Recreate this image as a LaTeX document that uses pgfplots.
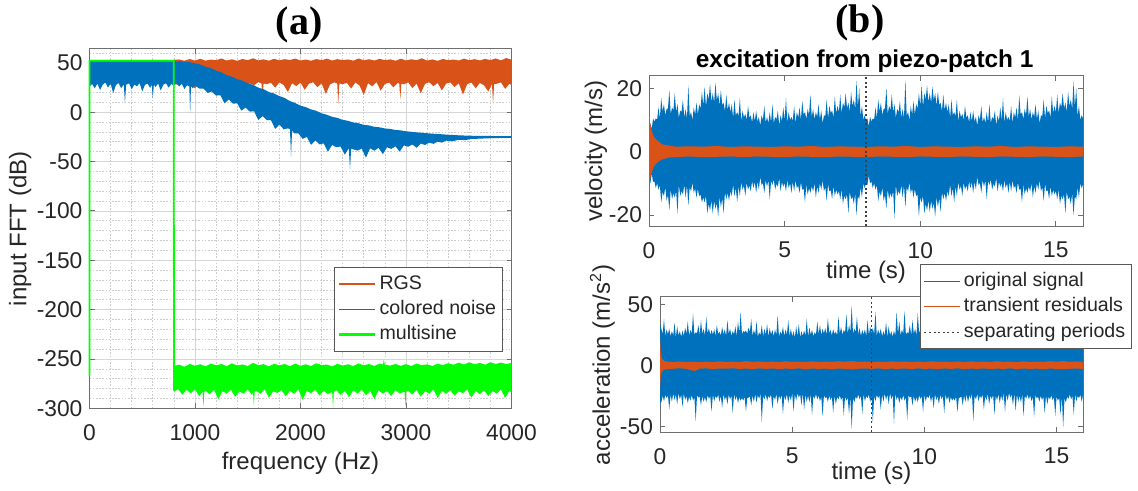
\documentclass[border=0pt]{standalone}
\usepackage{fontspec}
\setmainfont{Liberation Sans}
\newfontfamily\serifbf{Liberation Serif}
\usepackage{pgfplots}
\pgfplotsset{compat=1.18}
\usepackage{pgfplotstable}
\usepgfplotslibrary{fillbetween}

\definecolor{mlblue}{RGB}{0,114,189}
\definecolor{mlorange}{RGB}{217,83,25}
\definecolor{mlgreen}{RGB}{0,255,0}
\definecolor{txtgray}{RGB}{38,38,38}
\definecolor{boxgray}{RGB}{110,110,110}

\pgfplotsset{
  mlaxis/.style={
    scale only axis,
    anchor=south west,
    axis line style={boxgray, line width=0.5pt},
    tick style={boxgray, line width=0.5pt},
    tick align=inside,
    major tick length=2.5pt,
    minor tick length=0pt,
    scaled ticks=false,
    tick label style={font=\fontsize{11.4}{13}\selectfont, text=txtgray},
    xticklabel style={yshift=-4.3pt},
    label style={font=\fontsize{12}{14}\selectfont, text=txtgray},
    legend cell align=left,
    legend style={draw=black!65, line width=0.5pt, fill=white,
      font=\fontsize{9.8}{11}\selectfont,
      inner xsep=1.5pt, inner ysep=2pt,
      nodes={inner sep=1.5pt, text height=7.4pt, text depth=2.3pt, text=txtgray},
      row sep=0pt},
  },
  % legend samples: a short straight stroke in the given colour
  mlline/.style 2 args={legend image code/.code={%
    \draw[draw=#1, line width=#2] (0pt,0pt) -- (18pt,0pt);}},
  mldots/.style={legend image code/.code={%
    \draw[draw=black!75, line width=0.6pt, dash pattern=on 1pt off 1.3pt] (0pt,0pt) -- (18pt,0pt);}},
}

% velocity, original signal: time, upper and lower envelope
\pgfplotstableread{
t up lo
0.00 8.5 -8.4
0.05 9.0 -10.0
0.10 7.2 -6.9
0.15 10.5 -9.5
0.20 9.5 -9.4
0.25 10.5 -11.5
0.30 10.2 -9.9
0.35 14.0 -12.0
0.40 10.5 -10.5
0.45 17.0 -16.0
0.50 12.8 -12.7
0.55 15.0 -14.0
0.60 11.5 -11.2
0.65 13.5 -15.5
0.70 13.7 -13.6
0.75 19.5 -18.5
0.80 11.8 -11.8
0.85 14.0 -15.0
0.90 13.1 -13.0
0.95 18.5 -14.5
1.00 12.5 -12.4
1.05 15.0 -19.5
1.10 10.7 -10.4
1.15 13.0 -14.0
1.20 12.5 -12.4
1.25 16.5 -13.5
1.30 10.7 -10.4
1.35 13.5 -14.5
1.40 10.5 -10.5
1.45 21.0 -17.0
1.50 11.3 -11.2
1.55 12.5 -12.5
1.60 10.0 -9.7
1.65 14.0 -13.0
1.70 11.7 -11.6
1.75 15.5 -14.5
1.80 11.8 -11.8
1.85 15.0 -14.0
1.90 13.6 -13.5
1.95 19.0 -16.0
2.00 14.5 -14.4
2.05 20.5 -16.0
2.10 14.2 -13.9
2.15 18.5 -19.5
2.20 16.5 -16.4
2.25 21.5 -18.5
2.30 15.7 -15.4
2.35 18.5 -19.5
2.40 15.5 -15.5
2.45 21.7 -18.0
2.50 16.3 -16.2
2.55 18.5 -20.5
2.60 14.5 -14.2
2.65 19.5 -17.5
2.70 14.7 -14.6
2.75 15.5 -19.5
2.80 12.8 -12.8
2.85 18.0 -15.0
2.90 13.1 -13.0
2.95 15.5 -15.5
3.00 12.5 -12.4
3.05 15.0 -14.0
3.10 10.7 -10.4
3.15 16.5 -14.0
3.20 11.5 -11.4
3.25 12.5 -16.0
3.30 11.2 -10.9
3.35 17.0 -14.0
3.40 9.5 -9.5
3.45 13.0 -12.0
3.50 10.8 -10.7
3.55 12.0 -14.0
3.60 10.0 -9.7
3.65 14.5 -12.0
3.70 10.7 -10.6
3.75 11.5 -12.5
3.80 9.3 -9.3
3.85 12.5 -11.5
3.90 9.6 -9.5
3.95 13.0 -13.0
4.00 9.5 -9.4
4.05 11.0 -12.0
4.10 8.2 -7.9
4.15 11.5 -10.5
4.20 10.0 -9.9
4.25 14.5 -13.0
4.30 9.2 -8.9
4.35 11.0 -11.0
4.40 9.0 -9.0
4.45 12.5 -15.0
4.50 9.3 -9.2
4.55 15.0 -10.5
4.60 9.0 -8.7
4.65 11.0 -12.0
4.70 10.2 -10.1
4.75 13.0 -11.0
4.80 8.3 -8.3
4.85 11.5 -12.5
4.90 9.6 -9.5
4.95 14.0 -11.0
5.00 10.0 -9.9
5.05 17.0 -12.5
5.10 9.2 -8.9
5.15 12.5 -11.5
5.20 10.0 -9.9
5.25 11.0 -13.0
5.30 9.7 -9.4
5.35 14.5 -12.5
5.40 9.0 -9.0
5.45 12.5 -11.5
5.50 10.8 -10.7
5.55 14.0 -13.0
5.60 10.0 -9.7
5.65 16.0 -12.0
5.70 11.7 -11.6
5.75 12.5 -16.0
5.80 10.3 -10.3
5.85 13.5 -13.5
5.90 11.6 -11.5
5.95 18.0 -13.0
6.00 11.0 -10.9
6.05 13.5 -12.5
6.10 10.2 -9.9
6.15 12.5 -14.5
6.20 11.0 -10.9
6.25 15.0 -13.0
6.30 10.2 -9.9
6.35 13.0 -12.0
6.40 9.0 -9.0
6.45 11.5 -12.5
6.50 11.3 -11.2
6.55 16.5 -15.5
6.60 10.5 -10.2
6.65 14.5 -12.5
6.70 12.2 -12.1
6.75 13.0 -15.0
6.80 10.8 -10.8
6.85 17.5 -14.0
6.90 12.1 -12.0
6.95 14.5 -13.5
7.00 12.5 -12.4
7.05 18.0 -15.0
7.10 12.2 -11.9
7.15 15.5 -16.5
7.20 14.0 -13.9
7.25 18.5 -15.0
7.30 13.7 -13.4
7.35 15.5 -19.5
7.40 12.5 -12.5
7.45 19.0 -15.0
7.50 14.3 -14.2
7.55 16.5 -16.5
7.60 13.5 -13.2
7.65 22.4 -20.0
7.70 14.2 -14.1
7.75 20.0 -15.0
7.80 11.3 -11.3
7.85 14.5 -14.5
7.90 10.1 -10.0
7.95 11.5 -11.5
8.00 10.0 -9.8
8.05 10.5 -10.5
8.10 8.0 -7.5
8.15 11.0 -10.0
8.20 9.5 -9.4
8.25 10.5 -11.5
8.30 10.2 -9.9
8.35 14.0 -12.0
8.40 10.5 -10.5
8.45 16.5 -15.5
8.50 12.8 -12.7
8.55 15.5 -14.0
8.60 11.5 -11.2
8.65 13.5 -15.5
8.70 13.7 -13.6
8.75 20.2 -18.0
8.80 11.8 -11.8
8.85 14.5 -15.0
8.90 13.1 -13.0
8.95 18.0 -14.5
9.00 12.5 -12.4
9.05 15.0 -21.0
9.10 10.7 -10.4
9.15 13.5 -14.0
9.20 12.5 -12.4
9.25 16.0 -13.5
9.30 10.7 -10.4
9.35 13.5 -14.5
9.40 10.5 -10.5
9.45 22.6 -17.5
9.50 11.3 -11.2
9.55 12.5 -12.5
9.60 10.0 -9.7
9.65 14.5 -13.0
9.70 11.7 -11.6
9.75 16.0 -14.5
9.80 11.8 -11.8
9.85 15.0 -14.0
9.90 13.6 -13.5
9.95 18.5 -20.5
10.00 14.5 -14.4
10.05 21.0 -16.0
10.10 14.2 -13.9
10.15 18.5 -19.5
10.20 16.5 -16.4
10.25 21.0 -18.5
10.30 15.7 -15.4
10.35 18.5 -19.0
10.40 15.5 -15.5
10.45 20.5 -18.0
10.50 16.3 -16.2
10.55 18.5 -20.5
10.60 14.5 -14.2
10.65 19.0 -17.5
10.70 14.7 -14.6
10.75 15.5 -19.0
10.80 12.8 -12.8
10.85 18.0 -15.0
10.90 13.1 -13.0
10.95 15.5 -15.5
11.00 12.5 -12.4
11.05 15.0 -14.0
11.10 10.7 -10.4
11.15 16.5 -14.0
11.20 11.5 -11.4
11.25 12.5 -16.0
11.30 11.2 -10.9
11.35 16.5 -14.0
11.40 9.5 -9.5
11.45 13.0 -12.0
11.50 10.8 -10.7
11.55 12.0 -14.0
11.60 10.0 -9.7
11.65 14.5 -12.0
11.70 10.7 -10.6
11.75 11.5 -12.5
11.80 9.3 -9.3
11.85 12.5 -11.5
11.90 9.6 -9.5
11.95 13.0 -13.0
12.00 9.5 -9.4
12.05 11.0 -12.0
12.10 8.2 -7.9
12.15 11.5 -10.5
12.20 10.0 -9.9
12.25 14.5 -13.0
12.30 9.2 -8.9
12.35 11.0 -11.0
12.40 9.0 -9.0
12.45 12.5 -15.0
12.50 9.3 -9.2
12.55 15.0 -10.5
12.60 9.0 -8.7
12.65 11.0 -12.0
12.70 10.2 -10.1
12.75 13.0 -11.0
12.80 8.3 -8.3
12.85 11.5 -12.5
12.90 9.6 -9.5
12.95 14.0 -11.0
13.00 10.0 -9.9
13.05 17.0 -12.5
13.10 9.2 -8.9
13.15 12.5 -11.5
13.20 10.0 -9.9
13.25 11.0 -13.0
13.30 9.7 -9.4
13.35 14.5 -12.5
13.40 9.0 -9.0
13.45 12.5 -11.5
13.50 10.8 -10.7
13.55 14.0 -13.0
13.60 10.0 -9.7
13.65 17.8 -12.0
13.70 11.7 -11.6
13.75 12.5 -16.0
13.80 10.3 -10.3
13.85 13.5 -13.5
13.90 11.6 -11.5
13.95 17.5 -13.0
14.00 11.0 -10.9
14.05 13.5 -12.5
14.10 10.2 -9.9
14.15 12.5 -14.5
14.20 11.0 -10.9
14.25 15.0 -13.0
14.30 10.2 -9.9
14.35 13.0 -12.0
14.40 9.0 -9.0
14.45 11.5 -12.5
14.50 11.3 -11.2
14.55 16.5 -15.5
14.60 10.5 -10.2
14.65 14.5 -12.5
14.70 12.2 -12.1
14.75 13.0 -15.0
14.80 10.8 -10.8
14.85 17.5 -14.0
14.90 12.1 -12.0
14.95 14.5 -13.5
15.00 12.5 -12.4
15.05 18.0 -15.0
15.10 12.2 -11.9
15.15 15.5 -16.5
15.20 14.0 -13.9
15.25 18.5 -15.0
15.30 13.7 -13.4
15.35 15.5 -19.5
15.40 12.5 -12.5
15.45 19.0 -15.0
15.50 14.3 -14.2
15.55 16.5 -16.5
15.60 13.5 -13.2
15.65 22.2 -20.0
15.70 14.2 -14.1
15.75 20.0 -15.0
15.80 11.3 -11.3
15.85 14.5 -14.5
15.90 10.1 -10.0
15.95 11.5 -11.5
16.00 10.5 -10.3
}\velorig

% velocity, transient residuals
\pgfplotstableread{
t up lo
0.00 10.5 -10.0
0.02 9.8 -9.6
0.05 8.6 -8.4
0.08 7.4 -7.2
0.12 6.2 -6.1
0.16 5.2 -5.1
0.20 4.5 -4.4
0.25 4.0 -3.9
0.30 3.6 -3.5
0.40 2.9 -2.8
0.50 2.3 -2.4
0.75 1.9 -1.8
1.00 1.6 -1.7
1.50 1.7 -1.5
2.00 1.6 -1.7
2.50 1.8 -1.6
3.00 1.5 -1.5
3.50 1.7 -1.7
4.00 1.6 -1.5
4.50 1.5 -1.6
5.00 1.7 -1.7
5.50 1.6 -1.5
6.00 1.8 -1.6
6.50 1.5 -1.7
7.00 1.7 -1.5
7.50 1.6 -1.6
8.00 1.5 -1.7
8.50 1.7 -1.5
9.00 1.6 -1.6
9.50 1.8 -1.7
10.00 1.5 -1.5
10.50 1.7 -1.6
11.00 1.6 -1.7
11.50 1.5 -1.5
12.00 1.7 -1.6
12.50 1.6 -1.7
13.00 1.8 -1.5
13.50 1.5 -1.6
14.00 1.7 -1.7
14.50 1.6 -1.5
15.00 1.5 -1.6
15.50 1.7 -1.7
16.00 1.6 -1.5
}\veltrans

% acceleration, original signal: time, upper and lower envelope
\pgfplotstableread{
t up lo
0.00 34.0 -31.0
0.05 30.0 -30.5
0.10 25.5 -25.0
0.15 38.0 -29.5
0.20 24.0 -24.3
0.25 29.5 -27.0
0.30 25.3 -24.9
0.35 30.0 -36.0
0.40 23.7 -24.0
0.45 28.0 -30.0
0.50 24.3 -23.1
0.55 35.0 -28.5
0.60 23.0 -23.9
0.65 32.0 -32.0
0.70 24.5 -22.8
0.75 28.0 -28.0
0.80 23.3 -24.1
0.85 28.5 -34.0
0.90 24.1 -23.3
0.95 31.0 -28.5
1.00 25.7 -25.4
1.05 36.0 -31.0
1.10 24.5 -25.9
1.15 29.0 -29.0
1.20 26.0 -24.5
1.25 42.5 -29.0
1.30 24.9 -26.1
1.35 27.0 -46.0
1.40 26.3 -24.7
1.45 33.0 -26.5
1.50 24.6 -25.5
1.55 37.0 -33.0
1.60 25.8 -25.1
1.65 30.0 -30.0
1.70 24.4 -26.0
1.75 40.0 -30.5
1.80 26.1 -24.6
1.85 30.5 -27.5
1.90 24.8 -25.4
1.95 29.0 -38.0
2.00 25.1 -24.0
2.05 29.5 -29.5
2.10 23.9 -25.3
2.15 33.0 -27.0
2.20 25.5 -24.2
2.25 27.5 -30.0
2.30 24.3 -25.0
2.35 31.5 -35.0
2.40 25.2 -23.7
2.45 29.5 -28.5
2.50 24.0 -25.4
2.55 37.0 -32.0
2.60 25.6 -24.1
2.65 30.0 -28.0
2.70 24.2 -24.9
2.75 28.0 -39.0
2.80 25.4 -23.8
2.85 32.0 -28.5
2.90 23.8 -25.2
2.95 36.0 -31.0
3.00 26.5 -26.1
3.05 44.0 -29.0
3.10 25.5 -26.9
3.15 28.0 -29.0
3.20 27.1 -25.7
3.25 28.5 -38.0
3.30 25.9 -27.0
3.35 31.0 -26.5
3.40 27.3 -25.6
3.45 38.0 -33.0
3.50 24.1 -24.8
3.55 29.0 -30.0
3.60 25.0 -23.7
3.65 36.0 -30.5
3.70 23.5 -24.6
3.75 27.0 -27.5
3.80 24.8 -23.5
3.85 33.0 -47.0
3.90 23.7 -24.9
3.95 30.0 -28.0
4.00 24.9 -23.6
4.05 34.0 -29.5
4.10 23.6 -25.0
4.15 30.5 -27.0
4.20 25.1 -23.8
4.25 29.0 -36.0
4.30 23.8 -25.1
4.35 29.5 -28.5
4.40 24.7 -23.5
4.45 41.0 -32.0
4.50 23.5 -24.7
4.55 27.5 -28.0
4.60 25.3 -24.0
4.65 31.5 -40.0
4.70 24.0 -25.3
4.75 29.5 -28.5
4.80 24.8 -23.7
4.85 37.0 -31.0
4.90 23.9 -24.6
4.95 30.0 -29.0
5.00 23.4 -22.7
5.05 28.0 -38.0
5.10 22.6 -23.6
5.15 32.0 -29.0
5.20 23.7 -22.8
5.25 34.0 -26.5
5.30 22.8 -23.8
5.35 28.0 -33.0
5.40 23.9 -22.6
5.45 28.5 -37.0
5.50 24.4 -23.8
5.55 38.0 -30.0
5.60 23.6 -24.8
5.65 31.0 -30.5
5.70 25.0 -23.7
5.75 29.0 -41.0
5.80 23.8 -24.9
5.85 27.0 -27.5
5.90 25.1 -23.6
5.95 36.0 -28.0
6.00 25.4 -24.8
6.05 33.0 -29.5
6.10 24.6 -25.8
6.15 30.0 -42.0
6.20 25.9 -24.6
6.25 30.5 -27.0
6.30 24.8 -26.0
6.35 39.0 -30.0
6.40 26.1 -24.9
6.45 29.0 -28.5
6.50 24.7 -25.6
6.55 29.5 -39.0
6.60 25.7 -24.5
6.65 27.5 -32.0
6.70 24.5 -25.9
6.75 40.0 -28.0
6.80 26.0 -24.7
6.85 31.5 -28.5
6.90 24.9 -26.1
6.95 29.0 -41.0
7.00 26.7 -25.7
7.05 42.0 -29.0
7.10 25.6 -26.9
7.15 33.0 -40.0
7.20 27.1 -25.8
7.25 49.0 -52.5
7.30 25.8 -27.1
7.35 30.0 -30.5
7.40 27.2 -25.9
7.45 40.0 -27.5
7.50 25.1 -23.9
7.55 30.5 -28.0
7.60 24.0 -25.1
7.65 29.0 -40.0
7.70 25.3 -23.8
7.75 29.5 -29.5
7.80 23.9 -25.2
7.85 37.0 -27.0
7.90 25.0 -24.0
7.95 31.5 -30.0
8.00 26.5 -25.5
8.05 30.5 -47.0
8.10 25.5 -25.0
8.15 44.0 -29.5
8.20 24.0 -24.3
8.25 29.5 -27.0
8.30 25.3 -24.9
8.35 30.0 -36.5
8.40 23.7 -24.0
8.45 28.0 -30.0
8.50 24.3 -23.1
8.55 35.5 -28.5
8.60 23.0 -23.9
8.65 32.0 -32.0
8.70 24.5 -22.8
8.75 28.0 -28.0
8.80 23.3 -24.1
8.85 28.5 -48.0
8.90 24.1 -23.3
8.95 44.0 -28.5
9.00 25.7 -25.4
9.05 36.0 -31.0
9.10 24.5 -25.9
9.15 29.0 -29.0
9.20 26.0 -24.5
9.25 44.6 -29.0
9.30 24.9 -26.1
9.35 27.0 -45.0
9.40 26.3 -24.7
9.45 33.0 -26.5
9.50 24.6 -25.5
9.55 37.0 -33.0
9.60 25.8 -25.1
9.65 30.0 -30.0
9.70 24.4 -26.0
9.75 43.0 -30.5
9.80 26.1 -24.6
9.85 30.5 -27.5
9.90 24.8 -25.4
9.95 29.0 -38.5
10.00 25.1 -24.0
10.05 29.5 -29.5
10.10 23.9 -25.3
10.15 33.5 -27.0
10.20 25.5 -24.2
10.25 27.5 -30.0
10.30 24.3 -25.0
10.35 31.5 -35.5
10.40 25.2 -23.7
10.45 29.5 -28.5
10.50 24.0 -25.4
10.55 37.5 -32.0
10.60 25.6 -24.1
10.65 30.0 -28.0
10.70 24.2 -24.9
10.75 28.0 -39.5
10.80 25.4 -23.8
10.85 32.0 -28.5
10.90 23.8 -25.2
10.95 36.5 -31.0
11.00 26.5 -26.1
11.05 43.0 -29.0
11.10 25.5 -26.9
11.15 28.0 -29.0
11.20 27.1 -25.7
11.25 28.5 -38.5
11.30 25.9 -27.0
11.35 31.0 -26.5
11.40 27.3 -25.6
11.45 38.5 -33.0
11.50 24.1 -24.8
11.55 29.0 -30.0
11.60 25.0 -23.7
11.65 36.0 -30.5
11.70 23.5 -24.6
11.75 27.0 -27.5
11.80 24.8 -23.5
11.85 33.0 -46.0
11.90 23.7 -24.9
11.95 30.0 -28.0
12.00 24.9 -23.6
12.05 34.5 -29.5
12.10 23.6 -25.0
12.15 30.5 -27.0
12.20 25.1 -23.8
12.25 29.0 -36.5
12.30 23.8 -25.1
12.35 29.5 -28.5
12.40 24.7 -23.5
12.45 40.5 -32.0
12.50 23.5 -24.7
12.55 27.5 -28.0
12.60 25.3 -24.0
12.65 31.5 -40.5
12.70 24.0 -25.3
12.75 29.5 -28.5
12.80 24.8 -23.7
12.85 37.5 -31.0
12.90 23.9 -24.6
12.95 30.0 -29.0
13.00 23.4 -22.7
13.05 28.0 -38.5
13.10 22.6 -23.6
13.15 32.0 -29.0
13.20 23.7 -22.8
13.25 34.5 -26.5
13.30 22.8 -23.8
13.35 28.0 -33.0
13.40 23.9 -22.6
13.45 28.5 -37.5
13.50 24.4 -23.8
13.55 38.5 -30.0
13.60 23.6 -24.8
13.65 31.0 -30.5
13.70 25.0 -23.7
13.75 29.0 -41.5
13.80 23.8 -24.9
13.85 27.0 -27.5
13.90 25.1 -23.6
13.95 36.5 -28.0
14.00 25.4 -24.8
14.05 33.0 -29.5
14.10 24.6 -25.8
14.15 30.0 -42.5
14.20 25.9 -24.6
14.25 30.5 -27.0
14.30 24.8 -26.0
14.35 39.5 -30.0
14.40 26.1 -24.9
14.45 29.0 -28.5
14.50 24.7 -25.6
14.55 29.5 -39.5
14.60 25.7 -24.5
14.65 27.5 -32.0
14.70 24.5 -25.9
14.75 40.5 -28.0
14.80 26.0 -24.7
14.85 31.5 -28.5
14.90 24.9 -26.1
14.95 29.0 -41.5
15.00 26.7 -25.7
15.05 42.5 -29.0
15.10 25.6 -26.9
15.15 33.0 -40.5
15.20 27.1 -25.8
15.25 48.0 -51.0
15.30 25.8 -27.1
15.35 30.0 -30.5
15.40 27.2 -25.9
15.45 40.5 -27.5
15.50 25.1 -23.9
15.55 30.5 -28.0
15.60 24.0 -25.1
15.65 29.0 -40.5
15.70 25.3 -23.8
15.75 29.5 -29.5
15.80 23.9 -25.2
15.85 37.5 -27.0
15.90 25.0 -24.0
15.95 31.5 -30.0
16.00 25.5 -24.5
}\accorig

% acceleration, transient residuals
\pgfplotstableread{
t up lo
0.00 26.0 -21.0
0.01 19.0 -16.0
0.03 11.0 -9.5
0.06 6.5 -6.0
0.10 4.6 -4.4
0.15 3.6 -3.7
0.25 3.0 -3.2
0.50 2.6 -2.9
0.75 3.1 -2.5
1.00 2.7 -3.0
1.30 2.9 -4.8
1.50 2.5 -2.8
1.75 3.0 -2.6
2.00 2.6 -3.1
2.25 3.2 -2.7
2.50 2.7 -2.9
2.75 3.0 -2.5
3.00 2.6 -3.0
3.25 3.4 -2.8
3.50 2.8 -3.2
3.75 3.1 -2.6
4.00 2.7 -3.0
4.25 3.0 -2.7
4.50 2.6 -3.1
4.75 3.3 -2.8
5.00 2.8 -3.0
5.25 3.0 -2.6
5.50 2.6 -3.2
5.75 3.2 -2.7
6.00 2.7 -3.0
6.25 3.0 -2.8
6.50 2.8 -3.3
6.75 3.3 -2.7
7.00 2.9 -3.0
7.25 3.5 -3.4
7.50 2.8 -2.9
7.75 3.1 -2.7
8.00 2.7 -3.0
8.25 3.0 -2.6
8.50 2.6 -3.1
8.75 3.2 -2.8
9.00 2.8 -3.0
9.25 3.1 -2.7
9.50 2.7 -3.2
9.75 3.0 -2.6
10.00 2.6 -3.0
10.25 3.3 -2.8
10.50 2.8 -3.1
10.75 3.0 -2.7
11.00 2.7 -3.0
11.25 3.1 -2.6
11.50 2.6 -3.2
11.75 3.2 -2.8
12.00 2.8 -3.0
12.25 3.0 -2.7
12.50 2.7 -3.1
12.75 3.3 -2.8
13.00 2.8 -3.0
13.25 3.0 -2.6
13.50 2.6 -3.2
13.75 3.2 -2.7
14.00 2.7 -3.0
14.25 3.0 -2.8
14.50 2.8 -3.3
14.75 3.3 -2.7
15.00 2.9 -3.0
15.25 3.4 -3.3
15.50 2.8 -2.9
15.75 3.1 -2.7
16.00 2.7 -3.0
}\acctrans

\begin{document}
\begin{tikzpicture}

% ---------------- (a) input spectra ----------------
\begin{axis}[mlaxis,
  at={(44.75pt,41.25pt)}, width=211pt, height=179.75pt,
  xmin=0, xmax=4000, ymin=-300, ymax=64,
  clip=false,
  xtick={0,1000,2000,3000,4000}, xticklabels={0,1000,2000,3000,4000},
  ytick={-300,-250,-200,-150,-100,-50,0,50},
  yticklabels={-300,-250,-200,-150,-100,-50,0,50},
  minor xtick={0,200,...,4000},
  minor ytick={-300,-290,...,60},
  grid=both,
  major grid style={draw=black!16, line width=0.45pt},
  minor grid style={draw=black!20, line width=0.4pt, dash pattern=on 0.8pt off 0.8pt},
  xlabel={frequency (Hz)}, ylabel={input FFT (dB)},
  xlabel style={at={(axis description cs:0.5,-0.1516)}, anchor=center},
  ylabel style={at={(axis description cs:-0.164,0.5)}, anchor=center},
  legend style={at={(0.979,0.3944)}, anchor=north east},
]
\addlegendimage{mlline={mlorange}{0.6pt}}
\addlegendentry{RGS}
\addlegendimage{mlline={mlblue}{0.6pt}}
\addlegendentry{colored noise}
\addlegendimage{mlline={mlgreen}{1.3pt}}
\addlegendentry{multisine}
% RGS
\addplot[name path=rgsU, draw=none, forget plot] coordinates {
(0,53) (400,53) (800,53) (850,53.4) (900,52.1) (950,53.8) (1000,52.3) (1050,54.1)
(1100,52.2) (1150,53.3) (1200,52.6) (1250,54.4) (1300,52.3) (1350,53.6) (1400,52.0)
(1450,53.9) (1500,52.6) (1550,54.6) (1600,52.4) (1650,53.5) (1700,52.2) (1750,54.0)
(1800,52.5) (1850,53.7) (1900,52.8) (1950,54.3) (2000,52.3) (2050,53.3) (2100,52.1)
(2150,53.8) (2200,52.6) (2250,54.2) (2300,52.3) (2350,53.7) (2400,52.7) (2450,53.4)
(2500,52.2) (2550,54.3) (2600,52.5) (2650,53.6) (2700,52.3) (2750,54.0) (2800,52.6)
(2850,53.5) (2900,52.1) (2950,54.1) (3000,52.4) (3050,53.6) (3100,52.6) (3150,54.5)
(3200,52.3) (3250,53.4) (3300,52.0) (3350,53.9) (3400,52.6) (3450,53.3) (3500,52.3)
(3550,54.2) (3600,52.6) (3650,53.7) (3700,52.4) (3750,54.0) (3800,52.7) (3850,54.4)
(3900,52.5) (3950,54.8) (4000,53.2)};
\addplot[name path=rgsL, draw=none, forget plot] coordinates {
(0,30) (400,30) (800,29) (840,27.5) (880,30.2) (920,26.8) (960,29.5) (1000,24.0)
(1040,30.1) (1080,27.2) (1120,29.8) (1160,21.5) (1200,28.7) (1240,30.5) (1280,26.1)
(1320,29.4) (1360,19.8) (1400,28.9) (1440,30.3) (1480,25.7) (1520,29.1) (1560,27.3)
(1600,30.6) (1630,29.0) (1640,16.0) (1650,29.0) (1680,28.4) (1720,29.9) (1760,24.8)
(1800,30.2) (1840,27.6) (1880,20.5) (1920,29.3) (1960,26.4) (2000,30.0) (2040,22.7)
(2080,28.8) (2120,30.4) (2160,25.3) (2200,29.2) (2240,18.6) (2280,28.1) (2320,30.3)
(2348,29.0) (2358,8.4) (2368,29.0) (2400,28.5) (2440,29.7) (2480,23.9) (2520,30.1)
(2560,27.0) (2600,17.5) (2640,29.4) (2680,26.2) (2720,30.5) (2760,21.8) (2800,28.6)
(2840,30.0) (2880,25.1) (2920,29.5) (2936,29.0) (2946,13.0) (2956,29.0) (2980,28.2)
(3020,30.3) (3060,24.4) (3100,29.0) (3140,19.2) (3180,28.7) (3220,30.4) (3260,26.3)
(3300,29.6) (3340,22.0) (3380,28.9) (3420,30.2) (3460,25.5) (3500,29.3) (3540,17.9)
(3580,28.4) (3620,30.1) (3660,24.2) (3700,29.7) (3740,27.1) (3780,21.0) (3815,28.5)
(3825,8.4) (3835,28.5) (3860,28.8) (3900,30.3) (3940,23.6) (3980,28.9) (4000,27.5)};
\addplot[fill=mlorange, draw=none, forget plot] fill between[of=rgsU and rgsL];
% colored noise
\addplot[name path=cnU, draw=none, forget plot] coordinates {
(0,51.5) (400,51.5) (800,51.5) (850,51.6) (900,51.2) (950,50.6) (1000,49.5) (1050,48.2)
(1100,46.0) (1150,44.5) (1200,42.1) (1250,40.3) (1300,37.5) (1350,35.9) (1400,33.4)
(1450,31.9) (1500,29.2) (1550,27.7) (1600,24.8) (1650,23.3) (1700,20.4) (1750,18.9)
(1800,16.3) (1850,14.4) (1900,11.2) (1950,9.3) (2000,6.6) (2050,5.1) (2100,2.8)
(2150,1.4) (2200,-1.2) (2250,-2.6) (2300,-4.7) (2350,-5.8) (2400,-7.8) (2450,-8.7)
(2500,-10.4) (2550,-11.2) (2600,-12.8) (2650,-13.4) (2700,-14.8) (2750,-15.3)
(2800,-16.5) (2850,-16.9) (2900,-18.0) (2950,-18.4) (3000,-19.3) (3100,-20.4)
(3200,-21.3) (3300,-22.1) (3400,-22.8) (3500,-23.4) (3600,-23.8) (3700,-24.0)
(3800,-24.1) (3900,-24.2) (4000,-24.3)};
\addplot[name path=cnL, draw=none, forget plot] coordinates {
(0,26) (25,28.5) (50,24.2) (75,29.0) (100,22.5) (125,27.8) (150,30.1) (175,25.0)
(200,28.7) (225,19.5) (250,27.4) (275,29.6) (300,24.3) (325,28.1) (336,9.0) (347,27.8)
(375,29.3) (400,23.1) (425,28.0) (450,26.2) (475,29.5) (500,21.0) (525,27.6)
(550,29.1) (575,24.6) (590,27.9) (600,13.7) (610,28.2) (625,25.4) (650,29.2) (675,22.0)
(700,27.9) (725,29.4) (750,24.9) (775,28.6) (800,27.0) (825,29.5) (850,26.0) (875,28.8)
(900,23.5) (925,27.4) (946,26.0) (954,-1.0) (962,26.2) (980,24.2) (1000,27.0)
(1040,24.0) (1080,23.9) (1120,19.5) (1160,21.0) (1200,16.8) (1240,17.2) (1280,9.0)
(1320,12.9) (1360,8.7) (1400,8.9) (1440,1.5) (1480,4.8) (1520,0.6) (1560,0.9)
(1600,-8.0) (1640,-3.9) (1680,-7.9) (1720,-8.1) (1760,-17.0) (1800,-12.5) (1840,-17.3)
(1880,-16.4) (1900,-17.0) (1910,-45.0) (1920,-18.2) (1940,-21.5) (1980,-21.4)
(2020,-27.0) (2060,-25.0) (2100,-33.0) (2140,-28.6) (2180,-32.5) (2220,-31.6)
(2260,-40.0) (2300,-33.2) (2340,-35.5) (2380,-34.8) (2420,-43.0) (2458,-36.4)
(2469,-58.0) (2480,-36.8) (2500,-37.6) (2540,-38.9) (2580,-36.8)
(2620,-46.0) (2660,-36.5) (2700,-39.0) (2740,-36.0) (2780,-42.5) (2820,-35.5)
(2860,-37.2) (2900,-34.5) (2940,-40.0) (2980,-33.6) (3020,-35.0) (3060,-32.7)
(3100,-36.0) (3140,-31.7) (3180,-33.2) (3220,-30.8) (3260,-32.0) (3300,-29.8)
(3340,-30.8) (3380,-28.8) (3440,-29.4) (3500,-27.9) (3560,-28.3) (3620,-27.1)
(3700,-26.8) (3780,-26.4) (3860,-26.2) (3940,-26.0) (4000,-25.9)};
\addplot[fill=mlblue, draw=none, forget plot] fill between[of=cnU and cnL];
% multisine
\addplot[name path=msU, draw=none, forget plot] coordinates {
(800,-257) (850,-255.6) (900,-257.8) (950,-254.9) (1000,-256.7) (1050,-255.2)
(1100,-257.4) (1150,-254.6) (1200,-256.3) (1250,-255.0) (1300,-257.1) (1350,-254.3)
(1400,-256.5) (1450,-255.4) (1500,-257.0) (1550,-253.8) (1600,-256.2) (1650,-255.1)
(1700,-257.3) (1750,-254.7) (1800,-256.4) (1850,-255.0) (1900,-257.2) (1950,-254.5)
(2000,-256.8) (2050,-255.3) (2100,-257.0) (2150,-254.2) (2200,-256.1) (2250,-255.5)
(2300,-257.5) (2350,-254.8) (2400,-256.6) (2450,-255.2) (2500,-257.0) (2550,-254.4)
(2600,-256.3) (2650,-255.0) (2700,-256.9) (2750,-254.6) (2782,-255.4) (2790,-250.5)
(2798,-255.4) (2850,-256.6) (2900,-254.9) (2950,-256.8) (3000,-255.1) (3050,-257.0)
(3100,-254.5) (3150,-256.2) (3200,-255.3) (3250,-256.9) (3300,-254.7) (3350,-256.0)
(3400,-254.2) (3450,-255.8) (3500,-253.6) (3550,-255.4) (3600,-253.3) (3650,-255.1)
(3700,-253.9) (3750,-255.6) (3800,-253.2) (3850,-254.9) (3900,-253.5) (3950,-255.0)
(4000,-253.8)};
\addplot[name path=msL, draw=none, forget plot] coordinates {
(800,-283) (840,-280.5) (880,-286.0) (920,-281.2) (960,-284.5) (1000,-280.8)
(1040,-287.5) (1072,-283.0) (1080,-298.0) (1088,-283.0) (1100,-282.0) (1140,-285.6)
(1180,-280.9) (1220,-290.5) (1260,-282.4) (1300,-285.0) (1340,-281.0) (1380,-288.2)
(1420,-282.8) (1460,-284.9) (1500,-280.6) (1540,-286.4) (1550,-283.0) (1558,-297.0)
(1566,-283.0) (1580,-282.0) (1620,-285.3) (1660,-280.4) (1700,-289.0) (1740,-282.6)
(1780,-284.2) (1820,-281.3) (1860,-287.8) (1900,-281.9) (1940,-285.1) (1980,-280.7)
(2020,-291.0) (2060,-282.3) (2100,-284.6) (2140,-281.0) (2180,-286.9) (2220,-282.1)
(2260,-285.4) (2300,-283.0) (2308,-299.0) (2316,-283.0) (2340,-281.5) (2380,-286.2)
(2420,-282.0) (2460,-288.6) (2500,-281.4) (2540,-284.8) (2580,-280.9) (2620,-286.5)
(2660,-282.4) (2700,-290.2) (2740,-281.6) (2780,-285.0) (2820,-282.2) (2860,-287.4)
(2900,-281.3) (2940,-284.7) (2986,-283.0) (2994,-298.0) (3002,-283.0) (3020,-282.0)
(3060,-285.8) (3100,-281.2) (3140,-288.0) (3180,-282.5) (3220,-284.9) (3260,-280.6)
(3300,-289.5) (3340,-282.0) (3380,-285.2) (3420,-281.4) (3460,-287.0) (3500,-282.7)
(3540,-284.4) (3580,-280.8) (3620,-288.9) (3660,-282.1) (3700,-285.6) (3740,-281.5)
(3780,-287.6) (3820,-282.3) (3860,-284.8) (3900,-280.7) (3940,-289.3) (3980,-282.0)
(4000,-284.0)};
\addplot[fill=mlgreen, draw=none, forget plot] fill between[of=msU and msL];
\addplot[mlgreen, line width=0.9pt, forget plot] coordinates {
(0,-267) (0,52) (798,52) (801,-282)};
\end{axis}

\node[inner sep=0pt, font=\serifbf\bfseries\fontsize{20}{22}\selectfont, text=black] at (149.5pt,233pt) {(a)};
\node[inner sep=0pt, font=\serifbf\bfseries\fontsize{20}{22}\selectfont, text=black] at (430pt,233.85pt) {(b)};
\node[inner sep=0pt, font=\bfseries\fontsize{12.2}{14}\selectfont, text=black] at (432.35pt,214.65pt) {excitation from piezo-patch 1};

% ---------------- (b) velocity ----------------
\begin{axis}[mlaxis,
  at={(324.5pt,132.25pt)}, width=217pt, height=75.25pt,
  xmin=0, xmax=16, ymin=-23.6, ymax=23.9,
  xtick={0,5,10,15}, xticklabels={0,5,10,15},
  ytick={-20,0,20}, yticklabels={-20,0,20},
  xlabel={time (s)}, ylabel={velocity (m/s)},
  xlabel style={at={(axis description cs:0.5,-0.304)}, anchor=center},
  ylabel style={at={(axis description cs:-0.1221,0.5)}, anchor=center},
]
\addplot[name path=vU, draw=none, forget plot] table[x=t, y=up] {\velorig};
\addplot[name path=vL, draw=none, forget plot] table[x=t, y=lo] {\velorig};
\addplot[fill=mlblue, draw=none, forget plot] fill between[of=vU and vL];
\addplot[name path=vtU, draw=none, forget plot] table[x=t, y=up] {\veltrans};
\addplot[name path=vtL, draw=none, forget plot] table[x=t, y=lo] {\veltrans};
\addplot[fill=mlorange, draw=none, forget plot] fill between[of=vtU and vtL];
\addplot[black!75, line width=0.6pt, dash pattern=on 1pt off 1.3pt, forget plot]
  coordinates {(8,-23.6) (8,23.9)};
\end{axis}

% ---------------- (b) acceleration ----------------
\begin{axis}[mlaxis,
  at={(330pt,29.25pt)}, width=211.5pt, height=67.75pt,
  xmin=0, xmax=16, ymin=-55.2, ymax=56,
  xtick={0,5,10,15}, xticklabels={0,5,10,15},
  ytick={-50,0,50}, yticklabels={-50,0,50},
  xlabel={time (s)}, ylabel={acceleration (m/s\textsuperscript{2})},
  xlabel style={at={(axis description cs:0.5,-0.301)}, anchor=center},
  ylabel style={at={(axis description cs:-0.136,0.5)}, anchor=center},
  legend style={at={(1.1151,1.2413)}, anchor=north east},
]
\addlegendimage{mlline={mlblue}{0.6pt}}
\addlegendentry{original signal}
\addlegendimage{mlline={mlorange}{0.6pt}}
\addlegendentry{transient residuals}
\addlegendimage{mldots}
\addlegendentry{separating periods}
\addplot[name path=aU, draw=none, forget plot] table[x=t, y=up] {\accorig};
\addplot[name path=aL, draw=none, forget plot] table[x=t, y=lo] {\accorig};
\addplot[fill=mlblue, draw=none, forget plot] fill between[of=aU and aL];
\addplot[name path=atU, draw=none, forget plot] table[x=t, y=up] {\acctrans};
\addplot[name path=atL, draw=none, forget plot] table[x=t, y=lo] {\acctrans};
\addplot[fill=mlorange, draw=none, forget plot] fill between[of=atU and atL];
\addplot[black!75, line width=0.6pt, dash pattern=on 1pt off 1.3pt, forget plot]
  coordinates {(8,-55.2) (8,56)};
\end{axis}

% fix the page to the full drawing area
\pgfresetboundingbox
\path[use as bounding box] (0,0) rectangle (569pt,245.5pt);
\end{tikzpicture}
\end{document}
